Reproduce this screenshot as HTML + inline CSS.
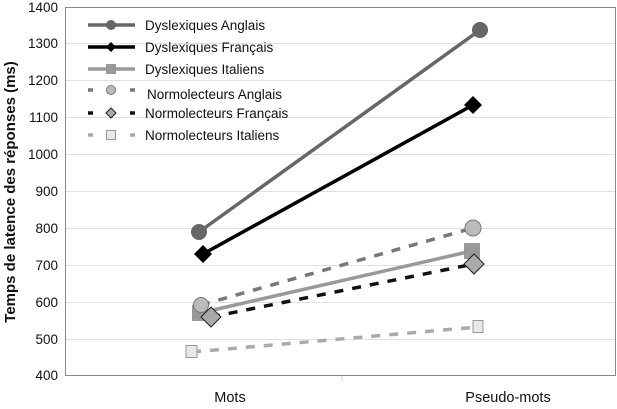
<!DOCTYPE html>
<html><head><meta charset="utf-8"><style>body{margin:0;background:#fff}svg{display:block}text{font-family:"Liberation Sans",sans-serif}</style></head>
<body>
<svg width="617" height="409" viewBox="0 0 617 409">
<rect x="0" y="0" width="617" height="409" fill="#fff"/>
<g stroke="#e0e0e0" stroke-width="1">
<line x1="65" y1="43.5" x2="615" y2="43.5"/><line x1="65" y1="80.5" x2="615" y2="80.5"/>
<line x1="65" y1="117.5" x2="615" y2="117.5"/><line x1="65" y1="154.5" x2="615" y2="154.5"/>
<line x1="65" y1="191.5" x2="615" y2="191.5"/><line x1="65" y1="228.5" x2="615" y2="228.5"/>
<line x1="65" y1="265.5" x2="615" y2="265.5"/><line x1="65" y1="302.5" x2="615" y2="302.5"/>
<line x1="65" y1="339.5" x2="615" y2="339.5"/>
</g>
<rect x="65.5" y="7.5" width="550" height="368" fill="none" stroke="#888" stroke-width="1"/>
<line x1="342" y1="376" x2="342" y2="381" stroke="#ccc"/>
<g font-size="13.5" text-anchor="end" fill="#111">
<text x="58" y="12">1400</text><text x="58" y="48">1300</text><text x="58" y="85">1200</text>
<text x="58" y="122">1100</text><text x="58" y="159">1000</text><text x="58" y="196">900</text>
<text x="58" y="233">800</text><text x="58" y="270">700</text><text x="58" y="307">600</text>
<text x="58" y="344">500</text><text x="58" y="380">400</text>
</g>
<text transform="translate(15,192) rotate(-90)" font-size="15" font-weight="bold" text-anchor="middle" fill="#111">Temps de latence des réponses (ms)</text>
<g font-size="14.5" text-anchor="middle" fill="#111"><text x="230" y="402">Mots</text><text x="508" y="402">Pseudo-mots</text></g>
<line x1="199" y1="232" x2="480" y2="30" stroke="#666" stroke-width="3.5"/>
<line x1="203" y1="254" x2="473" y2="105" stroke="#000" stroke-width="3.5"/>
<line x1="201" y1="305" x2="473" y2="228" stroke="#777" stroke-width="3.5" stroke-dasharray="9,9"/>
<line x1="200" y1="313" x2="472" y2="251" stroke="#999" stroke-width="3.5"/>
<line x1="211" y1="317" x2="474" y2="264" stroke="#111" stroke-width="3.5" stroke-dasharray="9,9"/>
<line x1="192" y1="352" x2="478" y2="327" stroke="#aaa" stroke-width="3.5" stroke-dasharray="9,9"/>
<circle cx="199" cy="232" r="8" fill="#666"/><circle cx="480" cy="30" r="8" fill="#666"/>
<path d="M203 245 L212 254 L203 263 L194 254Z" fill="#000"/><path d="M473 96 L482 105 L473 114 L464 105Z" fill="#000"/>
<rect x="192" y="305" width="16" height="16" fill="#999"/><rect x="464" y="243" width="16" height="16" fill="#999"/>
<circle cx="201" cy="305" r="7.5" fill="#bbb" stroke="#777"/><circle cx="473" cy="228" r="8" fill="#bbb" stroke="#777"/>
<path d="M211 307 L221 317 L211 327 L201 317Z" fill="#aaa" stroke="#222"/><path d="M474 254 L484 264 L474 274 L464 264Z" fill="#aaa" stroke="#222"/>
<rect x="186" y="345.5" width="11" height="12" fill="#e8e8e8" stroke="#999"/><rect x="473" y="320.5" width="10" height="12" fill="#e8e8e8" stroke="#999"/>
<g font-size="13.5" fill="#111">
<line x1="88" y1="25" x2="135" y2="25" stroke="#666" stroke-width="3.5"/><circle cx="111" cy="25" r="5" fill="#666"/>
<text x="145" y="30">Dyslexiques Anglais</text>
<line x1="88" y1="47" x2="135" y2="47" stroke="#000" stroke-width="3.5"/><path d="M111 42 L116 47 L111 52 L106 47Z" fill="#000"/>
<text x="145" y="52">Dyslexiques Français</text>
<line x1="88" y1="69" x2="135" y2="69" stroke="#999" stroke-width="3.5"/><rect x="106" y="64" width="10" height="10" fill="#999"/>
<text x="145" y="74">Dyslexiques Italiens</text>
<line x1="88" y1="90" x2="135" y2="90" stroke="#777" stroke-width="3.5" stroke-dasharray="5,16"/><circle cx="111" cy="90" r="4.5" fill="#bbb" stroke="#777"/>
<text x="147" y="99">Normolecteurs Anglais</text>
<line x1="88" y1="113" x2="135" y2="113" stroke="#111" stroke-width="3.5" stroke-dasharray="5,16"/><path d="M111 108 L116 113 L111 118 L106 113Z" fill="#aaa" stroke="#222"/>
<text x="145" y="118">Normolecteurs Français</text>
<line x1="88" y1="135" x2="135" y2="135" stroke="#aaa" stroke-width="3.5" stroke-dasharray="5,16"/><rect x="106.5" y="130.5" width="9" height="9" fill="#e8e8e8" stroke="#999"/>
<text x="145" y="140">Normolecteurs Italiens</text>
</g>
</svg>
</body></html>
